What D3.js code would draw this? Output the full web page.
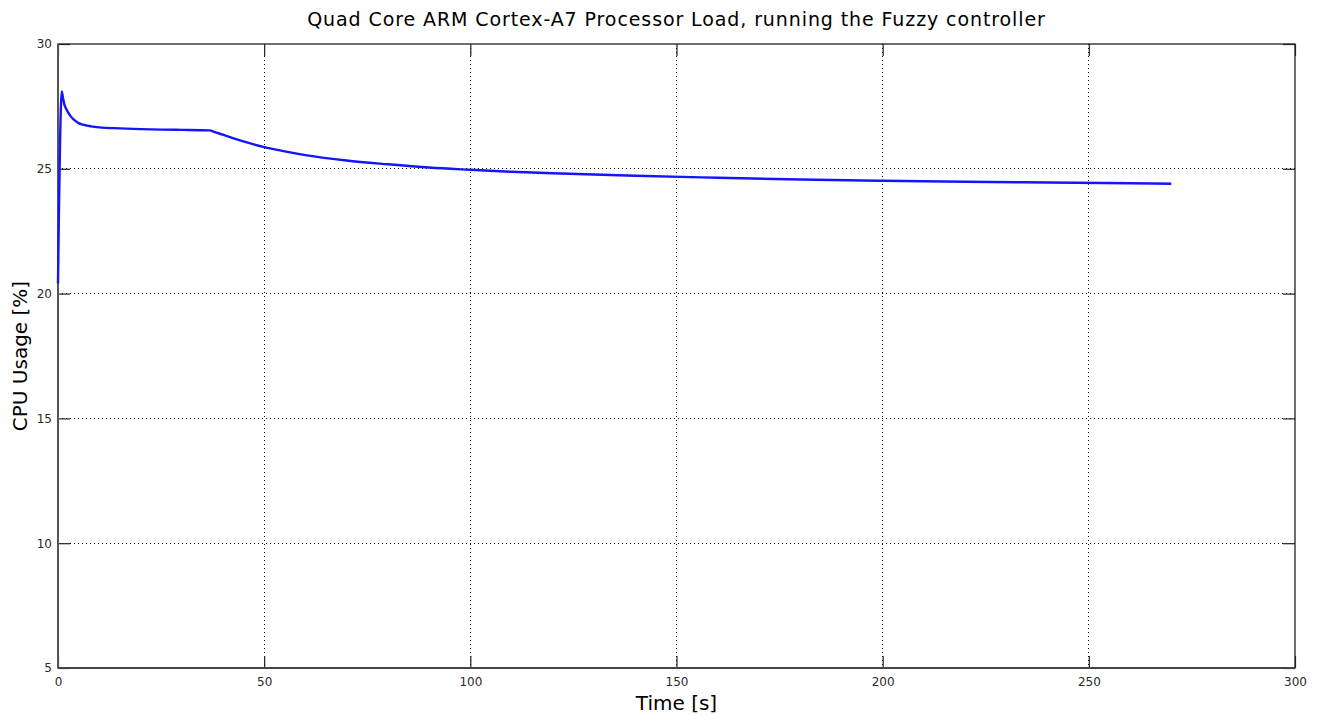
<!DOCTYPE html>
<html>
<head>
<meta charset="utf-8">
<script src="https://cdn.jsdelivr.net/npm/d3@7"></script>
<style>
  body { margin: 0; background: #fff; }
</style>
</head>
<body>
<div id="chart"></div>
<script>
// data
var time = [0, 0.2, 0.45, 0.9, 1.2, 1.5, 2, 2.5, 3, 4, 5, 6, 8, 10, 15, 20, 25, 30, 36.8,
            38, 40, 43, 46, 50, 55, 60, 70, 80, 90, 100, 110, 120, 140, 160, 180, 200, 220, 240, 260, 270];
var cpu = [20.4, 23.0, 25.6, 28.1, 27.85, 27.6, 27.4, 27.25, 27.12, 26.95, 26.83, 26.77, 26.7, 26.66, 26.62, 26.59, 26.57, 26.56, 26.54,
           26.47, 26.37, 26.2, 26.05, 25.87, 25.7, 25.55, 25.33, 25.18, 25.05, 24.96, 24.88, 24.82, 24.72, 24.64, 24.57, 24.52, 24.48, 24.45, 24.42, 24.4];
var xTicks = [0, 50, 100, 150, 200, 250, 300];
var yTicks = [5, 10, 15, 20, 25, 30];

var title = "Quad Core ARM Cortex-A7 Processor Load, running the Fuzzy controller",
    xLabel = "Time [s]",
    yLabel = "CPU Usage [%]";

var W = 1317, H = 715,
    margin = {top: 44, right: 22, bottom: 47, left: 58},
    w = W - margin.left - margin.right,
    h = H - margin.top - margin.bottom,
    tickLen = 12,
    font = "'DejaVu Sans', Verdana, sans-serif";

var svg = d3.select("#chart").append("svg")
    .attr("width", W)
    .attr("height", H);

var g = svg.append("g")
    .attr("transform", "translate(" + margin.left + "," + margin.top + ")");

var x = d3.scaleLinear().domain([0, 300]).range([0, w]);
var y = d3.scaleLinear().domain([5, 30]).range([h, 0]);

// grid
g.append("g").selectAll("line")
    .data(xTicks.slice(1, -1))
    .enter().append("line")
        .attr("x1", d => x(d)).attr("x2", d => x(d))
        .attr("y1", 0).attr("y2", h);
g.append("g").selectAll("line")
    .data(yTicks.slice(1, -1))
    .enter().append("line")
        .attr("x1", 0).attr("x2", w)
        .attr("y1", d => y(d)).attr("y2", d => y(d));
g.selectAll("g line")
    .attr("stroke", "#000")
    .attr("stroke-width", 1)
    .attr("stroke-dasharray", "1,3")
    .attr("shape-rendering", "crispEdges");

// axes, ticks pointing inwards on all four sides
function styleAxis(sel) {
    sel.select(".domain").remove();
    sel.selectAll(".tick line").attr("stroke", "#222").attr("stroke-width", 1.2);
    sel.selectAll(".tick text")
        .attr("font-family", font)
        .attr("font-size", "12px")
        .attr("fill", "#2a2a2a");
}

g.append("g")
    .attr("transform", "translate(0," + h + ")")
    .call(d3.axisBottom(x).tickValues(xTicks).tickSize(-tickLen).tickPadding(9))
    .call(styleAxis);
g.append("g")
    .call(d3.axisTop(x).tickValues(xTicks).tickSize(-tickLen).tickFormat(""))
    .call(styleAxis);
g.append("g")
    .call(d3.axisLeft(y).tickValues(yTicks).tickSize(-tickLen).tickPadding(6))
    .call(styleAxis);
g.append("g")
    .attr("transform", "translate(" + w + ",0)")
    .call(d3.axisRight(y).tickValues(yTicks).tickSize(-tickLen).tickFormat(""))
    .call(styleAxis);

// box
g.append("rect")
    .attr("width", w)
    .attr("height", h)
    .attr("fill", "none")
    .attr("stroke", "#222")
    .attr("stroke-width", 1.3);
g.append("line")
    .attr("x1", 0).attr("x2", 0).attr("y1", 0).attr("y2", h)
    .attr("stroke", "#555").attr("stroke-width", 2);
g.append("line")
    .attr("x1", 0).attr("x2", w).attr("y1", h).attr("y2", h)
    .attr("stroke", "#444").attr("stroke-width", 2);

// series
var pts = time.map((t, i) => [t, cpu[i]]);
g.append("path")
    .datum(pts)
    .attr("fill", "none")
    .attr("stroke", "#1414ff")
    .attr("stroke-width", 2.4)
    .attr("stroke-linejoin", "round")
    .attr("d", d3.line().x(d => x(d[0])).y(d => y(d[1])).curve(d3.curveMonotoneX));

// labels
svg.append("text")
    .attr("x", margin.left + w / 2)
    .attr("y", 26)
    .attr("text-anchor", "middle")
    .attr("font-family", font)
    .attr("font-size", "19px")
    .attr("letter-spacing", "0.9px")
    .attr("fill", "#000")
    .text(title);

svg.append("text")
    .attr("x", margin.left + w / 2)
    .attr("y", 710)
    .attr("text-anchor", "middle")
    .attr("font-family", font)
    .attr("font-size", "20px")
    .attr("fill", "#000")
    .text(xLabel);

svg.append("text")
    .attr("transform", "translate(27," + (margin.top + h / 2) + ") rotate(-90)")
    .attr("text-anchor", "middle")
    .attr("font-family", font)
    .attr("font-size", "20px")
    .attr("fill", "#000")
    .text(yLabel);
</script>
</body>
</html>
